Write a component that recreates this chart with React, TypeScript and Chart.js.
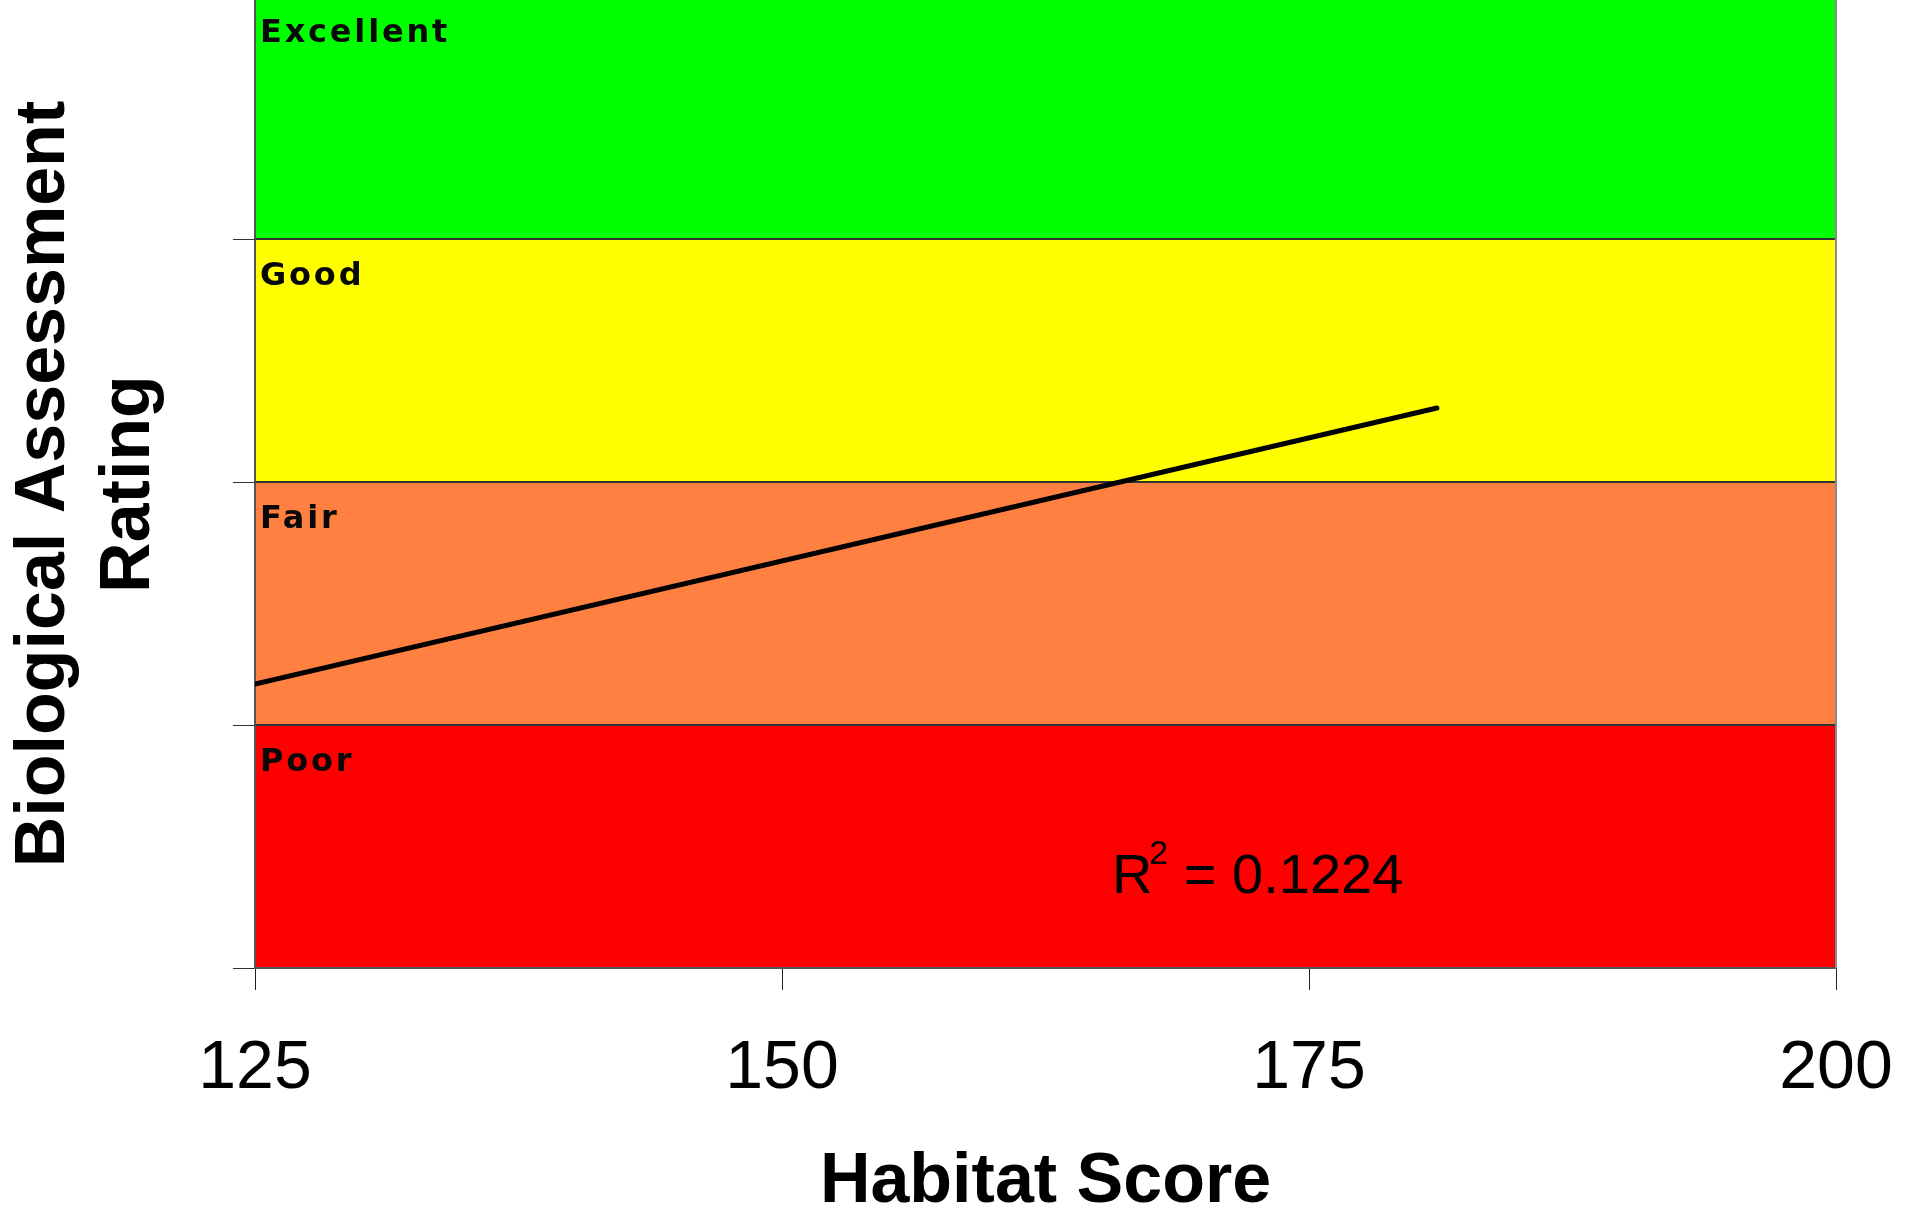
import React, { useEffect, useRef } from 'react';
import { Chart, registerables } from 'chart.js';

Chart.register(...registerables);

const FONT = "'Liberation Sans', Arial, Helvetica, sans-serif";
const LABEL_FONT = "'DejaVu Sans', 'Liberation Sans', Arial, sans-serif";

const xTicks = [125, 150, 175, 200];
const yTicks = [0, 1, 2, 3];
const yMax = 3.984;
const bandNames = ['Poor', 'Fair', 'Good', 'Excellent'];
const bandLower = [0, 1, 2, 3];
const bandUpper = [1, 2, 3, 4];
const bandColors = ['#ff0000', '#ff8040', '#ffff00', '#00ff00'];
const trendX = [125, 181.07];
const trendY = [1.169, 2.305];
const r2Value = '0.1224';
const r2Position = [165.65, 0.31];
const xTitle = 'Habitat Score';
const yTitle = ['Biological Assessment', 'Rating'];

const bandsPlugin = {
  id: 'bands',
  beforeDraw(chart: any) {
    const { ctx, chartArea, scales } = chart;
    const y = scales.y;
    ctx.save();
    for (let i = 0; i < bandNames.length; i++) {
      const top = y.getPixelForValue(bandUpper[i]);
      const bot = y.getPixelForValue(bandLower[i]);
      ctx.fillStyle = bandColors[i];
      ctx.fillRect(chartArea.left, top, chartArea.right - chartArea.left, bot - top);
    }
    ctx.restore();
  },
  beforeDatasetsDraw(chart: any) {
    const { ctx, chartArea, scales } = chart;
    const y = scales.y;
    ctx.save();
    ctx.strokeStyle = '#333333';
    ctx.lineWidth = 2;
    for (let i = 1; i < bandLower.length; i++) {
      const py = y.getPixelForValue(bandLower[i]);
      ctx.beginPath();
      ctx.moveTo(chartArea.left, py);
      ctx.lineTo(chartArea.right, py);
      ctx.stroke();
    }
    ctx.strokeStyle = '#8a8a8a';
    ctx.beginPath();
    ctx.moveTo(chartArea.right, chartArea.top);
    ctx.lineTo(chartArea.right, chartArea.bottom);
    ctx.stroke();

    ctx.fillStyle = '#080808';
    ctx.font = `bold 32px ${LABEL_FONT}`;
    (ctx as any).letterSpacing = '2.8px';
    ctx.textAlign = 'left';
    ctx.textBaseline = 'alphabetic';
    for (let i = 0; i < bandNames.length; i++) {
      const top = y.getPixelForValue(bandUpper[i]);
      ctx.fillText(bandNames[i], chartArea.left + 5, top + 46);
    }
    ctx.restore();
  },
  afterDatasetsDraw(chart: any) {
    const { ctx, scales } = chart;
    const px = scales.x.getPixelForValue(r2Position[0]);
    const py = scales.y.getPixelForValue(r2Position[1]);
    ctx.save();
    ctx.fillStyle = '#000000';
    ctx.textAlign = 'left';
    ctx.textBaseline = 'alphabetic';
    ctx.font = `56px ${FONT}`;
    ctx.fillText('R', px, py);
    const wR = ctx.measureText('R').width;
    ctx.font = `34px ${FONT}`;
    const sx = px + wR - 3;
    ctx.fillText('2', sx, py - 29);
    const w2 = ctx.measureText('2').width;
    ctx.font = `56px ${FONT}`;
    ctx.fillText(' = ' + r2Value, sx + w2, py);
    ctx.restore();
  },
};

export default function App() {
  const ref = useRef<HTMLCanvasElement | null>(null);

  useEffect(() => {
    if (!ref.current) return;
    Chart.defaults.font.family = FONT;
    const chart = new Chart(ref.current, {
      type: 'line',
      data: {
        datasets: [
          {
            data: trendX.map((x, i) => ({ x, y: trendY[i] })),
            borderColor: '#000000',
            borderWidth: 5,
            borderCapStyle: 'round',
            pointRadius: 0,
            fill: false,
          },
        ],
      },
      options: {
        animation: false,
        responsive: false,
        events: [],
        layout: { padding: { left: 0, top: 0, right: 87, bottom: 0 } },
        plugins: { legend: { display: false }, tooltip: { enabled: false } },
        scales: {
          x: {
            type: 'linear',
            min: 125,
            max: 200,
            afterBuildTicks: (s: any) => {
              s.ticks = xTicks.map((v) => ({ value: v }));
            },
            afterFit: (s: any) => {
              s.height = 257;
              s.paddingLeft = 0;
              s.paddingRight = 0;
            },
            ticks: {
              font: { size: 68 },
              color: '#000000',
              padding: 38,
              maxRotation: 0,
              autoSkip: false,
            },
            grid: { drawOnChartArea: false, tickLength: 22, color: '#222222', lineWidth: 1 },
            border: { color: '#555555', width: 2 },
            title: {
              display: true,
              text: xTitle,
              color: '#000000',
              font: { size: 70, weight: 'bold', lineHeight: 1.2 },
              padding: { top: 0, bottom: 0 },
            },
          },
          y: {
            type: 'linear',
            min: 0,
            max: yMax,
            afterBuildTicks: (s: any) => {
              s.ticks = yTicks.map((v) => ({ value: v }));
            },
            afterFit: (s: any) => {
              s.width = 255;
            },
            ticks: { display: false },
            grid: { drawOnChartArea: false, tickLength: 22, color: '#333333', lineWidth: 1 },
            border: { color: '#555555', width: 2 },
            title: {
              display: true,
              text: yTitle,
              color: '#000000',
              font: { size: 70, weight: 'bold', lineHeight: 1.22 },
              padding: { top: 2, bottom: 0 },
            },
          },
        },
      } as any,
      plugins: [bandsPlugin],
    });
    return () => chart.destroy();
  }, []);

  return (
    <div style={{ position: 'fixed', left: 0, top: 0, width: 1923, height: 1225, background: '#ffffff' }}>
      <canvas ref={ref} width={1923} height={1225} style={{ display: 'block', width: 1923, height: 1225 }} />
    </div>
  );
}
